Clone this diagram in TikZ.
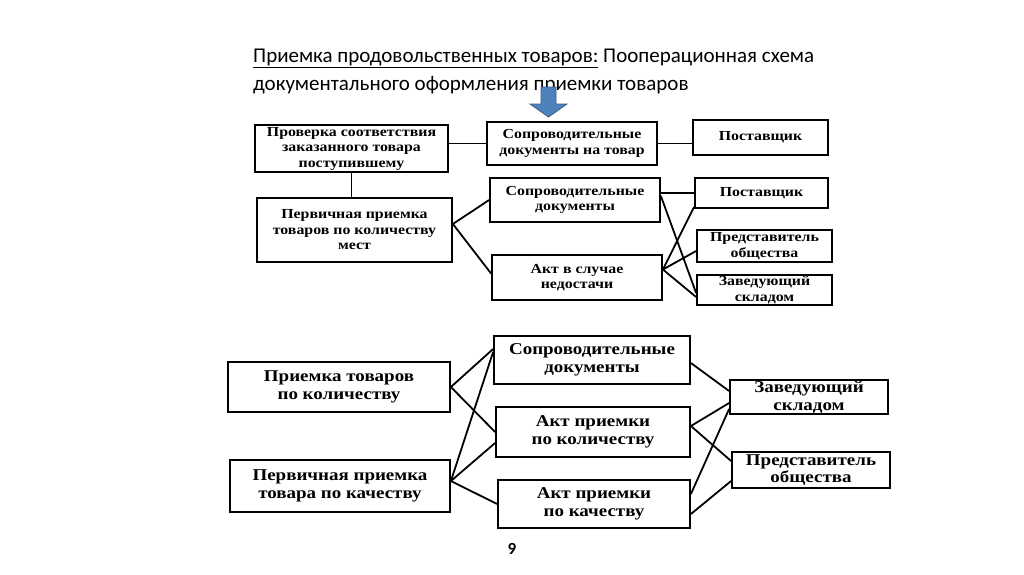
\documentclass[tikz,border=0pt]{standalone}
\usepackage{fontspec}
\setmainfont{Liberation Serif}
\newfontfamily\titlefont{Carlito}
\newfontfamily\boxfont[FakeStretch=1.15]{Liberation Serif}
\usetikzlibrary{positioning}
\definecolor{arrowblue}{RGB}{79,129,189}
\definecolor{arrowedge}{RGB}{56,93,138}

\begin{document}
\begin{tikzpicture}[x=1pt, y=-1pt,
docbox/.style={draw, line width=1.8pt, align=center, inner sep=1pt, font=\boxfont\bfseries\fontsize{13.8}{15.5}\selectfont},
bigbox/.style={docbox, font=\boxfont\bfseries\fontsize{16.5}{17.5}\selectfont},
boxsize/.style 2 args={minimum width=#1pt, minimum height=#2pt},
link/.style={line width=1.8pt},
]
\useasboundingbox (0,0) rectangle (1024,574);

%Title
\node[anchor=base west, font=\titlefont\fontsize{21}{28}\selectfont, inner sep=0] (title1) at (253,62) {\underline{Приемка продовольственных товаров:} Пооперационная схема};
\node[anchor=base west, font=\titlefont\fontsize{21}{28}\selectfont, inner sep=0] (title2) at (253,90) {документального оформления приемки товаров};
\filldraw[fill=arrowblue, draw=arrowedge, line width=0.8pt] (541,87) -- (556,87) -- (556,104) -- (567,104) -- (548.5,117) -- (530,104) -- (541,104) -- cycle;

%Nodes
\node[docbox, boxsize={193}{47}] (check) at (351.5,148.5) {Проверка соответствия\\заказанного товара\\поступившему};
\node[docbox, boxsize={170}{43}] (docs1) at (572,143.5) {Сопроводительные\\документы на товар};
\node[docbox, boxsize={135}{35}] (supp1) at (760.5,137.5) {Поставщик};
\node[docbox, boxsize={195}{64}] (prim1) at (354.5,230) {Первичная приемка\\товаров по количеству\\мест};
\node[docbox, boxsize={170}{44}] (docs2) at (575,200) {Сопроводительные\\документы};
\node[docbox, boxsize={170}{45}] (act1)  at (577,277.5) {Акт в случае\\недостачи};
\node[docbox, boxsize={133}{30}] (supp2) at (761.5,193) {Поставщик};
\node[docbox, boxsize={135}{32}] (rep1)  at (764.5,246) {Представитель\\общества};
\node[docbox, boxsize={135}{30}] (head1) at (764.5,290) {Заведующий\\складом};

\node[bigbox, boxsize={222}{50}] (qty)   at (339,387) {Приемка товаров\\по количеству};
\node[bigbox, boxsize={220}{52}] (prim2) at (340,486) {Первичная приемка\\товара по качеству};
\node[bigbox, boxsize={196}{48}] (docs3) at (592,360) {Сопроводительные\\документы};
\node[bigbox, boxsize={194}{50}] (act2)  at (593,432) {Акт приемки\\по количеству};
\node[bigbox, boxsize={192}{48}] (act3)  at (594,504) {Акт приемки\\по качеству};
\node[bigbox, boxsize={158}{34}] (head2) at (809,397) {Заведующий\\складом};
\node[bigbox, boxsize={158}{36}] (rep2)  at (811,470) {Представитель\\общества};

\node[font=\titlefont\bfseries\fontsize{17}{18}\selectfont] (page) at (512,549) {9};

%Lines
\draw[link] (docs1.west) -- (docs1.west -| check.east);
\draw[link] (docs1.east) -- (docs1.east -| supp1.west);
\draw[link] (check.south) -- (check.south |- prim1.north);
\draw[link] ([yshift=6pt]prim1.east) -- (docs2.west);
\draw[link] ([yshift=6pt]prim1.east) -- ([yshift=4pt]act1.west);
\draw[link] (supp2.west) -- (supp2.west -| docs2.east);
\draw[link] ([yshift=4pt]docs2.east) -- ([yshift=-3pt]head1.west);
\draw[link] ([yshift=8pt]act1.east) -- ([yshift=2pt]supp2.south west);
\draw[link] ([yshift=8pt]act1.east) -- ([yshift=-5pt]rep1.west);
\draw[link] ([yshift=8pt]act1.east) -- ([yshift=-7pt]head1.west);

\draw[link] (qty.east) -- ([yshift=11pt]docs3.west);
\draw[link] (qty.east) -- (act2.west);
\draw[link] ([yshift=5pt]prim2.east) -- ([yshift=8pt]docs3.west);
\draw[link] ([yshift=5pt]prim2.east) -- ([yshift=-11pt]act2.west);
\draw[link] ([yshift=5pt]prim2.east) -- (act3.west);
\draw[link] ([yshift=-3pt]docs3.east) -- ([yshift=6pt]head2.west);
\draw[link] ([yshift=6pt]act2.east) -- ([yshift=-6pt]head2.west);
\draw[link] ([yshift=6pt]act2.east) -- ([yshift=9pt]rep2.west);
\draw[link] ([yshift=10pt]act3.east) -- ([yshift=-12pt]head2.west);
\draw[link] ([yshift=-10pt]act3.east) -- ([yshift=-11pt]rep2.west);
\end{tikzpicture}
\end{document}
